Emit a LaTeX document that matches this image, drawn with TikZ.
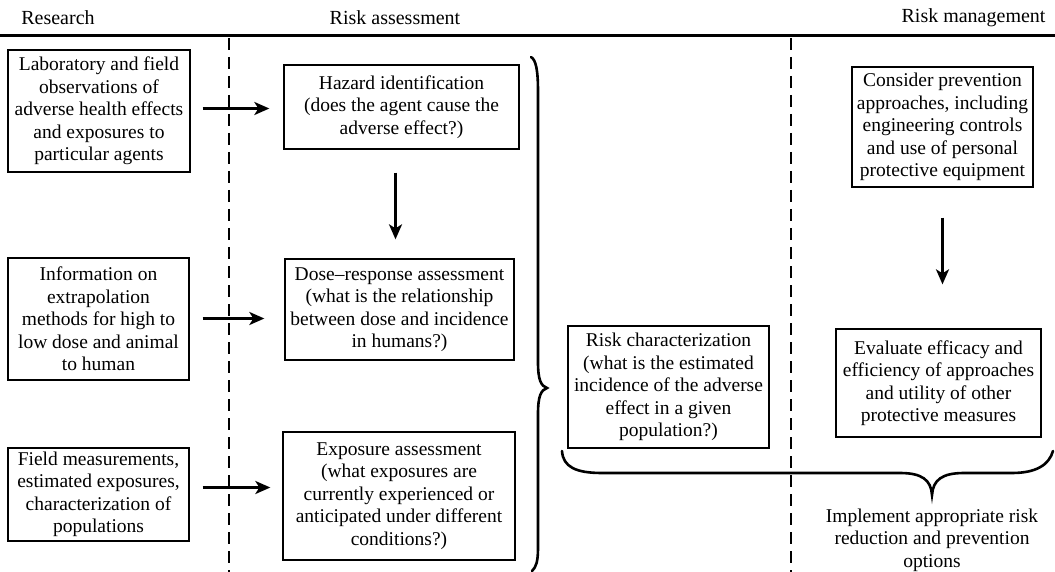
\documentclass[tikz,border=0pt]{standalone}
\usepackage{fontspec}
\setmainfont{Liberation Serif}
\usetikzlibrary{arrows.meta}

\tikzset{
  box/.style={draw, line width=1.3pt, align=center, inner sep=0pt,
    font=\fontsize{19.5}{22.5}\selectfont},
  head/.style={font=\fontsize{20}{22}\selectfont},
  arr/.style={-{Stealth[length=15pt,width=13pt,inset=4pt]}, line width=2.5pt},
  colsep/.style={line width=1.2pt, dash pattern=on 12pt off 7pt},
  brace/.style={line width=2.6pt, line cap=round}
}

\begin{document}
\begin{tikzpicture}[x=1pt, y=-1pt]
  \useasboundingbox (0,0) rectangle (1055,572);

  % Column headings
  \node[head] (hres) at (58,18) {Research};
  \node[head] (hass) at (395,18) {Risk assessment};
  \node[head, anchor=east] (hman) at (1049,18) {Risk management};
  \draw[line width=3pt] (0,36) -- (1055,36);

  % Column separators
  \draw[colsep] (229,38) -- (229,572);
  \draw[colsep] (791,38) -- (791,572);

  % Research
  \node[box, minimum width=182pt, minimum height=122pt] (lab) at (99,111)
    {Laboratory and field\\observations of\\adverse health effects\\and exposures to\\particular agents};
  \node[box, minimum width=181pt, minimum height=122pt] (info) at (98.5,319)
    {Information on\\extrapolation\\methods for high to\\low dose and animal\\to human};
  \node[box, minimum width=181pt, minimum height=93pt] (fld) at (98.5,494.5)
    {Field measurements,\\estimated exposures,\\characterization of\\populations};

  % Risk assessment
  \node[box, minimum width=235pt, minimum height=84pt] (haz) at (401.5,107)
    {Hazard identification\\(does the agent cause the\\adverse effect?)};
  \node[box, minimum width=229pt, minimum height=101pt] (dose) at (399.5,309.5)
    {Dose--response assessment\\(what is the relationship\\between dose and incidence\\in humans?)};
  \node[box, minimum width=232pt, minimum height=128pt] (expo) at (399,496)
    {Exposure assessment\\(what exposures are\\currently experienced or\\anticipated under different\\conditions?)};
  \node[box, minimum width=201pt, minimum height=122pt] (riskc) at (668.5,387)
    {Risk characterization\\(what is the estimated\\incidence of the adverse\\effect in a given\\population?)};

  % Risk management
  \node[box, minimum width=181pt, minimum height=120pt] (cons) at (942.5,127)
    {Consider prevention\\approaches, including\\engineering controls\\and use of personal\\protective equipment};
  \node[box, minimum width=205pt, minimum height=108pt] (eval) at (938.5,383)
    {Evaluate efficacy and\\efficiency of approaches\\and utility of other\\protective measures};
  \node[align=center, inner sep=0pt, font=\fontsize{19.5}{22.5}\selectfont] (impl) at (932,540)
    {Implement appropriate risk\\reduction and prevention\\options};

  % Arrows
  \draw[arr, shorten <=12pt, shorten >=14pt] ([yshift=2.5pt]lab.east) -- ([yshift=2.5pt]lab.east -| haz.west);
  \draw[arr, shorten <=13pt, shorten >=20pt] ([yshift=0.5pt]info.east) -- ([yshift=0.5pt]info.east -| dose.west);
  \draw[arr, shorten <=13pt, shorten >=12pt] ([yshift=7pt]fld.east) -- ([yshift=7pt]fld.east -| expo.west);
  \draw[arr, shorten <=23pt, shorten >=19pt] ([xshift=-6pt]haz.south) -- ([xshift=-6pt]haz.south |- dose.north);
  \draw[arr, shorten <=30pt, shorten >=44pt] (cons.south) -- (cons.south |- eval.north);

  % Braces
  \draw[brace] (531,57) .. controls (536,60) and (538,70) .. (538,92) -- (538,362)
    .. controls (538,380) and (541,386) .. (547,388)
    .. controls (541,390) and (538,396) .. (538,414) -- (538,548)
    .. controls (538,562) and (536,567) .. (532,571);
  \draw[brace] (562,451) .. controls (563,467) and (576,473) .. (602,473) -- (900,473)
    .. controls (922,473) and (931,480) .. (932,495)
    .. controls (933,480) and (942,473) .. (964,473) -- (1012,473)
    .. controls (1036,473) and (1049,465) .. (1053,451);
\end{tikzpicture}
\end{document}
